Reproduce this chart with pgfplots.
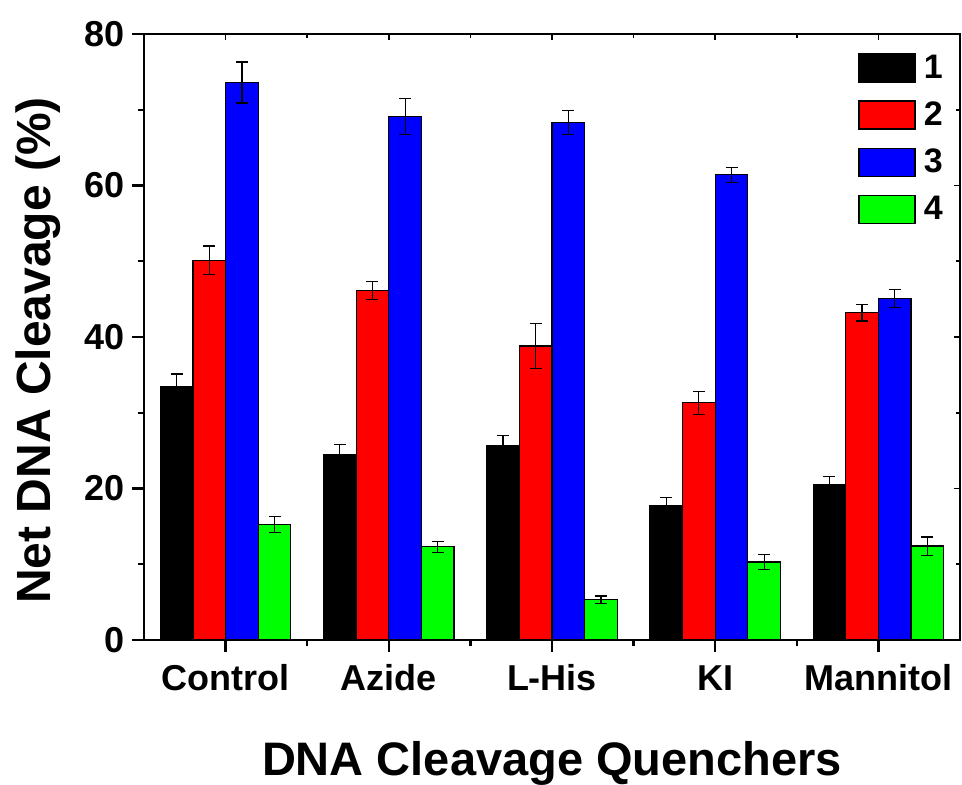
\documentclass[border=0pt]{standalone}
\usepackage{pgfplots}
\pgfplotsset{compat=1.18}
\usepackage{pgfplotstable}
\usepackage{fontspec}
\setmainfont{Liberation Sans}

\definecolor{cOne}{RGB}{0,0,0}
\definecolor{cTwo}{RGB}{255,0,0}
\definecolor{cThree}{RGB}{0,0,255}
\definecolor{cFour}{RGB}{0,255,0}

% net cleavage (%) and error per quencher: Control, Azide, L-His, KI, Mannitol
\pgfplotstableread{
x y e
0 33.5 1.6
1 24.5 1.3
2 25.7 1.3
3 17.8 1.0
4 20.5 1.1
}\seriesA
\pgfplotstableread{
x y e
0 50.1 1.9
1 46.1 1.2
2 38.8 3.0
3 31.3 1.5
4 43.2 1.1
}\seriesB
\pgfplotstableread{
x y e
0 73.6 2.7
1 69.1 2.4
2 68.3 1.6
3 61.4 1.0
4 45.1 1.2
}\seriesC
\pgfplotstableread{
x y e
0 15.2 1.05
1 12.3 0.7
2 5.3 0.5
3 10.3 1.0
4 12.4 1.2
}\seriesD

\begin{document}
\begin{tikzpicture}
\begin{axis}[
  name=ax,
  scale only axis,
  width=408pt, height=303pt,
  ybar=0pt, bar width=0.2,
  xmin=-0.5, xmax=4.5,
  ymin=0, ymax=80,
  xtick={0,1,2,3,4},
  xticklabels={Control,Azide,L-His,KI,Mannitol},
  minor xtick={0.5,1.5,2.5,3.5},
  ytick={0,20,40,60,80},
  minor ytick={10,30,50,70},
  tick align=outside,
  xtick pos=bottom, ytick pos=left,
  major tick length=6pt, minor tick length=3pt,
  every tick/.style={black, line width=1.2pt},
  axis line style={line width=1.2pt},
  /pgf/number format/assume math mode=true,
  ticklabel style={font=\fontsize{18}{20}\selectfont\bfseries},
  xticklabel style={text height=13pt, text depth=4pt, yshift=-2.5pt},
  xlabel={DNA Cleavage Quenchers},
  ylabel={Net DNA Cleavage (\%)},
  label style={font=\fontsize{24}{28}\selectfont\bfseries},
  xlabel style={font=\fontsize{23.5}{28}\selectfont\bfseries, yshift=-15pt},
  ylabel style={yshift=5pt, xshift=-6.75pt},
  error bars/error bar style={line width=0.6pt, black},
  error bars/error mark options={rotate=90, mark size=3pt, line width=0.6pt, black},
  legend style={draw=none, fill=none, at={(0.875,0.973)}, anchor=north west,
    inner sep=0pt, row sep=6.3pt, font=\fontsize{17}{17}\selectfont\bfseries,
    cells={anchor=west}},
  legend image code/.code={\draw[#1, draw=black, line width=0.8pt] (0pt,-7pt) rectangle (28pt,7pt); \path (30pt,0pt);},
]
\addplot[fill=cOne, draw=black, line width=0.6pt, error bars/.cd, y dir=both, y explicit]
  table[x=x, y=y, y error=e] {\seriesA};
\addplot[fill=cTwo, draw=black, line width=0.6pt, error bars/.cd, y dir=both, y explicit]
  table[x=x, y=y, y error=e] {\seriesB};
\addplot[fill=cThree, draw=black, line width=0.6pt, error bars/.cd, y dir=both, y explicit]
  table[x=x, y=y, y error=e] {\seriesC};
\addplot[fill=cFour, draw=black, line width=0.6pt, error bars/.cd, y dir=both, y explicit]
  table[x=x, y=y, y error=e] {\seriesD};
\legend{1,2,3,4}
\end{axis}
% small inward ticks along the top and right edges of the frame
\begin{axis}[
  at={(ax.south west)}, anchor=south west,
  scale only axis,
  width=408pt, height=303pt,
  xmin=-0.5, xmax=4.5,
  ymin=0, ymax=80,
  axis line style={draw=none},
  xtick={0,1,2,3,4}, minor xtick={0.5,1.5,2.5,3.5},
  ytick={0,20,40,60,80}, minor ytick={10,30,50,70},
  xticklabels={}, yticklabels={},
  xtick pos=top, ytick pos=right,
  tick align=inside,
  major tick length=3pt, minor tick length=2pt,
  every tick/.style={black, line width=0.8pt},
]
\end{axis}
\pgfresetboundingbox
\useasboundingbox ([shift={(-72pt,-72.5pt)}]ax.south west) rectangle ([shift={(1pt,17pt)}]ax.north east);
\end{tikzpicture}
\end{document}
